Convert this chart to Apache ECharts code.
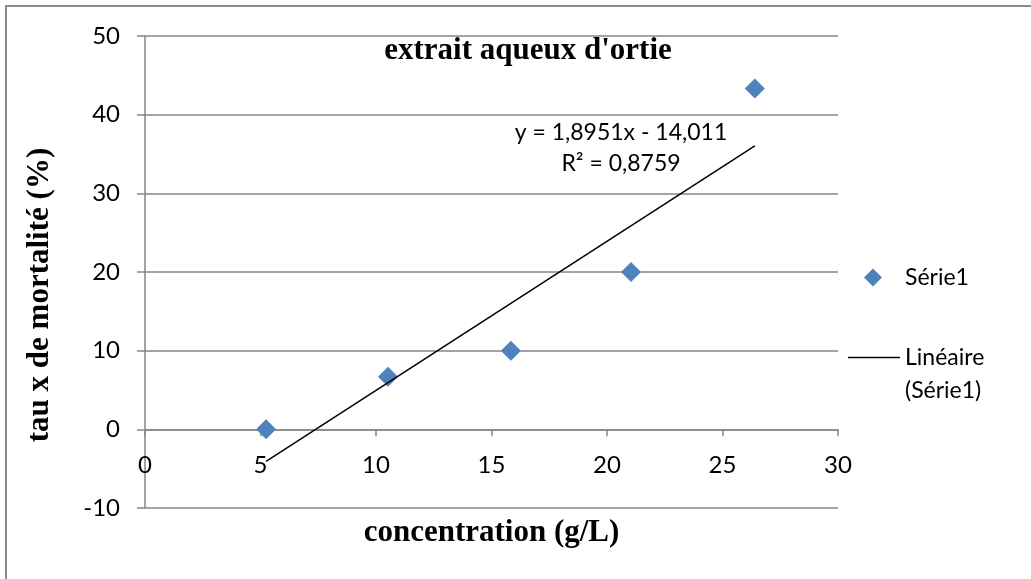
<!DOCTYPE html>
<html>
<head>
<meta charset="utf-8">
<script src="https://cdn.jsdelivr.net/npm/echarts@6/dist/echarts.min.js"></script>
<style>html,body{margin:0;padding:0;background:#fff}#c{width:1031px;height:579px}</style>
</head>
<body>
<div id="c"></div>
<script>
// Data
const concentration = [5.24, 10.52, 15.84, 21.04, 26.4];
const mortality = [0, 6.67, 10, 20, 43.33];
const trendX = [5.24, 26.4];
const trendY = [-4.08, 36.02];
const xTicks = [0, 5, 10, 15, 20, 25, 30];
const yTicks = [-10, 0, 10, 20, 30, 40, 50];
const titleText = "extrait aqueux d'ortie";
const xName = "concentration (g/L)";
const yName = "tau x de mortalité (%)";
const seriesName = "Série1";
const trendName = "Linéaire";
const trendName2 = "(Série1)";
const equationText = "y = 1,8951x - 14,011\nR² = 0,8759";

const chart = echarts.init(document.getElementById('c'));
const gridColor = '#868686';
const sans = 'Lato';
const serif = 'Liberation Serif';
const gridTop = 36, gridBottom = 71;
const plotH = 579 - gridTop - gridBottom;
const yMin = yTicks[0], yMax = yTicks[yTicks.length - 1];
// x axis crosses the y axis at 0: shift it up from the bottom of the plot
const xAxisOffset = -plotH * (0 - yMin) / (yMax - yMin);
chart.setOption({
  animation: false,
  backgroundColor: '#fff',
  title: {
    text: titleText, left: 523, top: 30, textAlign: 'center',
    textStyle: { fontFamily: serif, fontWeight: 'bold', fontSize: 31, color: '#000' }
  },
  grid: { left: 145, right: 193, top: gridTop, bottom: gridBottom, outerBoundsMode: 'none', containLabel: false },
  xAxis: {
    type: 'value', min: xTicks[0], max: xTicks[xTicks.length - 1], interval: 5,
    position: 'bottom', offset: xAxisOffset,
    axisLine: { show: true, onZero: false, lineStyle: { color: gridColor, width: 1.5 } },
    axisTick: { show: true, length: 7, lineStyle: { color: gridColor, width: 1.5 } },
    axisLabel: { margin: 24, fontFamily: sans, fontSize: 24, color: '#000' },
    splitLine: { show: false },
    name: xName, nameLocation: 'middle', nameGap: 88,
    nameTextStyle: { fontFamily: serif, fontWeight: 'bold', fontSize: 31, color: '#000' }
  },
  yAxis: {
    type: 'value', min: yMin, max: yMax, interval: 10,
    axisLine: { show: true, onZero: false, lineStyle: { color: gridColor, width: 1.5 } },
    axisTick: { show: true, length: 8, lineStyle: { color: gridColor, width: 1.5 } },
    axisLabel: { margin: 25, fontFamily: sans, fontSize: 24, color: '#000' },
    splitLine: { show: true, lineStyle: { color: gridColor, width: 1.5 } },
    name: yName, nameLocation: 'middle', nameGap: 90,
    nameTextStyle: { fontFamily: serif, fontWeight: 'bold', fontSize: 31, color: '#000', padding: [0, 46, 0, 0] }
  },
  legend: [
    {
      data: [{ name: seriesName, icon: 'diamond' }],
      orient: 'vertical', left: 859, top: 261, itemWidth: 18, itemHeight: 18,
      itemStyle: { opacity: 1 },
      textStyle: { fontFamily: sans, fontSize: 23, color: '#000', padding: [0, 0, 0, 18] }
    },
    {
      data: [{ name: trendName, icon: 'path://M0,0 L52,0 L52,1.5 L0,1.5 Z' }],
      orient: 'vertical', left: 843, top: 341, itemWidth: 52, itemHeight: 2,
      textStyle: { fontFamily: sans, fontSize: 23, color: '#000' }
    }
  ],
  graphic: [
    { type: 'rect', shape: { x: 6, y: 6, width: 2000, height: 2000 }, style: { fill: 'none', stroke: '#8a8a8a', lineWidth: 2 }, silent: true },
    { type: 'text', left: 905, top: 379, style: { text: trendName2, fontFamily: sans, fontSize: 23, fill: '#000' } },
    { type: 'text', x: 621, y: 117, style: { text: equationText, textAlign: 'center', fontFamily: sans, fontSize: 23, lineHeight: 31, fill: '#000' } }
  ],
  series: [
    {
      name: seriesName, type: 'scatter', symbol: 'diamond', symbolSize: 20,
      itemStyle: { color: '#4F81BD', opacity: 1 },
      data: concentration.map((x, i) => [x, mortality[i]]), z: 3
    },
    {
      name: trendName, type: 'line', symbol: 'none',
      lineStyle: { color: '#000', width: 1.5 }, itemStyle: { color: '#000' },
      data: trendX.map((x, i) => [x, trendY[i]]), z: 4
    }
  ]
});
</script>
</body>
</html>
